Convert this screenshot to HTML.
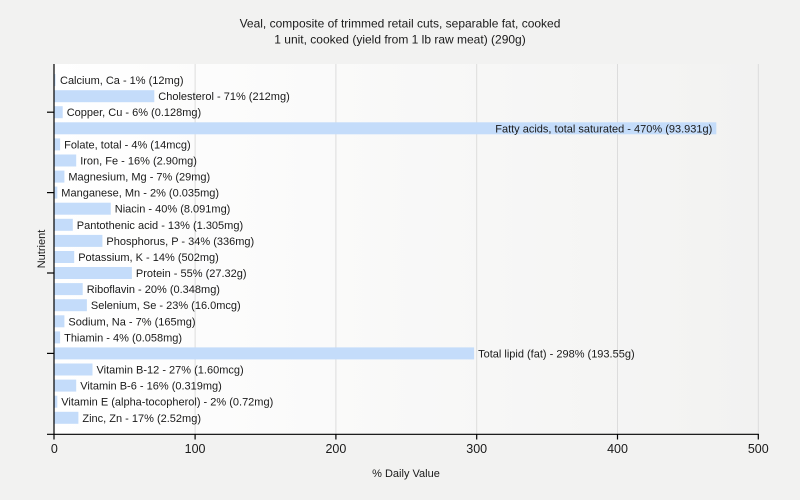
<!DOCTYPE html>
<html><head><meta charset="utf-8"><style>
html,body{margin:0;padding:0;background:#f2f2f1;}
svg{display:block;font-family:"Liberation Sans",Arial,sans-serif;}
</style></head><body>
<svg width="800" height="500" viewBox="0 0 800 500" xmlns="http://www.w3.org/2000/svg">
<defs>
<linearGradient id="bg" x1="0" y1="0" x2="1" y2="0">
<stop offset="0" stop-color="#ffffff"/>
<stop offset="1" stop-color="#f2f2f1"/>
</linearGradient>
</defs>
<rect x="0" y="0" width="800" height="500" fill="#f2f2f1"/>
<rect x="54" y="64" width="704.5" height="370" fill="url(#bg)"/>
<g stroke="#dcdcdc" stroke-width="1">
<line x1="195.1" y1="64" x2="195.1" y2="434"/>
<line x1="335.9" y1="64" x2="335.9" y2="434"/>
<line x1="476.7" y1="64" x2="476.7" y2="434"/>
<line x1="617.5" y1="64" x2="617.5" y2="434"/>
<line x1="758.3" y1="64" x2="758.3" y2="434"/>
</g>
<text x="400" y="27.5" font-size="12" text-anchor="middle" fill="#1a1a1a">Veal, composite of trimmed retail cuts, separable fat, cooked</text>
<text x="400" y="43.5" font-size="12" text-anchor="middle" fill="#1a1a1a">1 unit, cooked (yield from 1 lb raw meat) (290g)</text>
<g fill="#c4dcfa">
<rect x="54.5" y="74.1" width="1" height="12"/>
<rect x="54.5" y="90.2" width="99.8" height="12"/>
<rect x="54.5" y="106.2" width="8.2" height="12"/>
<rect x="54.5" y="122.3" width="661.8" height="12"/>
<rect x="54.5" y="138.4" width="5.6" height="12"/>
<rect x="54.5" y="154.5" width="21.7" height="12"/>
<rect x="54.5" y="170.6" width="9.9" height="12"/>
<rect x="54.5" y="186.6" width="2.8" height="12"/>
<rect x="54.5" y="202.7" width="56.3" height="12"/>
<rect x="54.5" y="218.8" width="18.3" height="12"/>
<rect x="54.5" y="234.9" width="47.9" height="12"/>
<rect x="54.5" y="251" width="19.7" height="12"/>
<rect x="54.5" y="267" width="77.4" height="12"/>
<rect x="54.5" y="283.1" width="28.2" height="12"/>
<rect x="54.5" y="299.2" width="32.4" height="12"/>
<rect x="54.5" y="315.3" width="9.9" height="12"/>
<rect x="54.5" y="331.4" width="5.6" height="12"/>
<rect x="54.5" y="347.4" width="419.6" height="12"/>
<rect x="54.5" y="363.5" width="38" height="12"/>
<rect x="54.5" y="379.6" width="21.7" height="12"/>
<rect x="54.5" y="395.7" width="2.8" height="12"/>
<rect x="54.5" y="411.8" width="23.9" height="12"/>
</g>
<g font-size="11" fill="#1a1a1a">
<text x="60" y="84.1">Calcium, Ca - 1% (12mg)</text>
<text x="158.3" y="100.2">Cholesterol - 71% (212mg)</text>
<text x="66.7" y="116.2">Copper, Cu - 6% (0.128mg)</text>
<text x="712.3" y="132.3" text-anchor="end">Fatty acids, total saturated - 470% (93.931g)</text>
<text x="64.1" y="148.4">Folate, total - 4% (14mcg)</text>
<text x="80.2" y="164.5">Iron, Fe - 16% (2.90mg)</text>
<text x="68.4" y="180.6">Magnesium, Mg - 7% (29mg)</text>
<text x="61.3" y="196.6">Manganese, Mn - 2% (0.035mg)</text>
<text x="114.8" y="212.7">Niacin - 40% (8.091mg)</text>
<text x="76.8" y="228.8">Pantothenic acid - 13% (1.305mg)</text>
<text x="106.4" y="244.9">Phosphorus, P - 34% (336mg)</text>
<text x="78.2" y="261">Potassium, K - 14% (502mg)</text>
<text x="135.9" y="277">Protein - 55% (27.32g)</text>
<text x="86.7" y="293.1">Riboflavin - 20% (0.348mg)</text>
<text x="90.9" y="309.2">Selenium, Se - 23% (16.0mcg)</text>
<text x="68.4" y="325.3">Sodium, Na - 7% (165mg)</text>
<text x="64.1" y="341.4">Thiamin - 4% (0.058mg)</text>
<text x="478.1" y="357.4">Total lipid (fat) - 298% (193.55g)</text>
<text x="96.5" y="373.5">Vitamin B-12 - 27% (1.60mcg)</text>
<text x="80.2" y="389.6">Vitamin B-6 - 16% (0.319mg)</text>
<text x="61.3" y="405.7">Vitamin E (alpha-tocopherol) - 2% (0.72mg)</text>
<text x="82.4" y="421.8">Zinc, Zn - 17% (2.52mg)</text>
</g>
<g stroke="#000" stroke-width="1.2">
<line x1="54" y1="64" x2="54" y2="439.5"/>
<line x1="47" y1="434.3" x2="758.8" y2="434.3"/>
<line x1="47" y1="112.2" x2="54" y2="112.2"/>
<line x1="47" y1="192.6" x2="54" y2="192.6"/>
<line x1="47" y1="273" x2="54" y2="273"/>
<line x1="47" y1="353.4" x2="54" y2="353.4"/>
<line x1="195.1" y1="434" x2="195.1" y2="439.5"/>
<line x1="335.9" y1="434" x2="335.9" y2="439.5"/>
<line x1="476.7" y1="434" x2="476.7" y2="439.5"/>
<line x1="617.5" y1="434" x2="617.5" y2="439.5"/>
<line x1="758.3" y1="434" x2="758.3" y2="439.5"/>
</g>
<g font-size="12.5" fill="#1a1a1a" text-anchor="middle">
<text x="54.3" y="452.8">0</text>
<text x="195.1" y="452.8">100</text>
<text x="335.9" y="452.8">200</text>
<text x="476.7" y="452.8">300</text>
<text x="617.5" y="452.8">400</text>
<text x="758.3" y="452.8">500</text>
</g>
<text x="406" y="477" font-size="11" text-anchor="middle" fill="#1a1a1a">% Daily Value</text>
<text transform="translate(45,249) rotate(-90)" font-size="11" text-anchor="middle" fill="#1a1a1a">Nutrient</text>
</svg>
</body></html>
